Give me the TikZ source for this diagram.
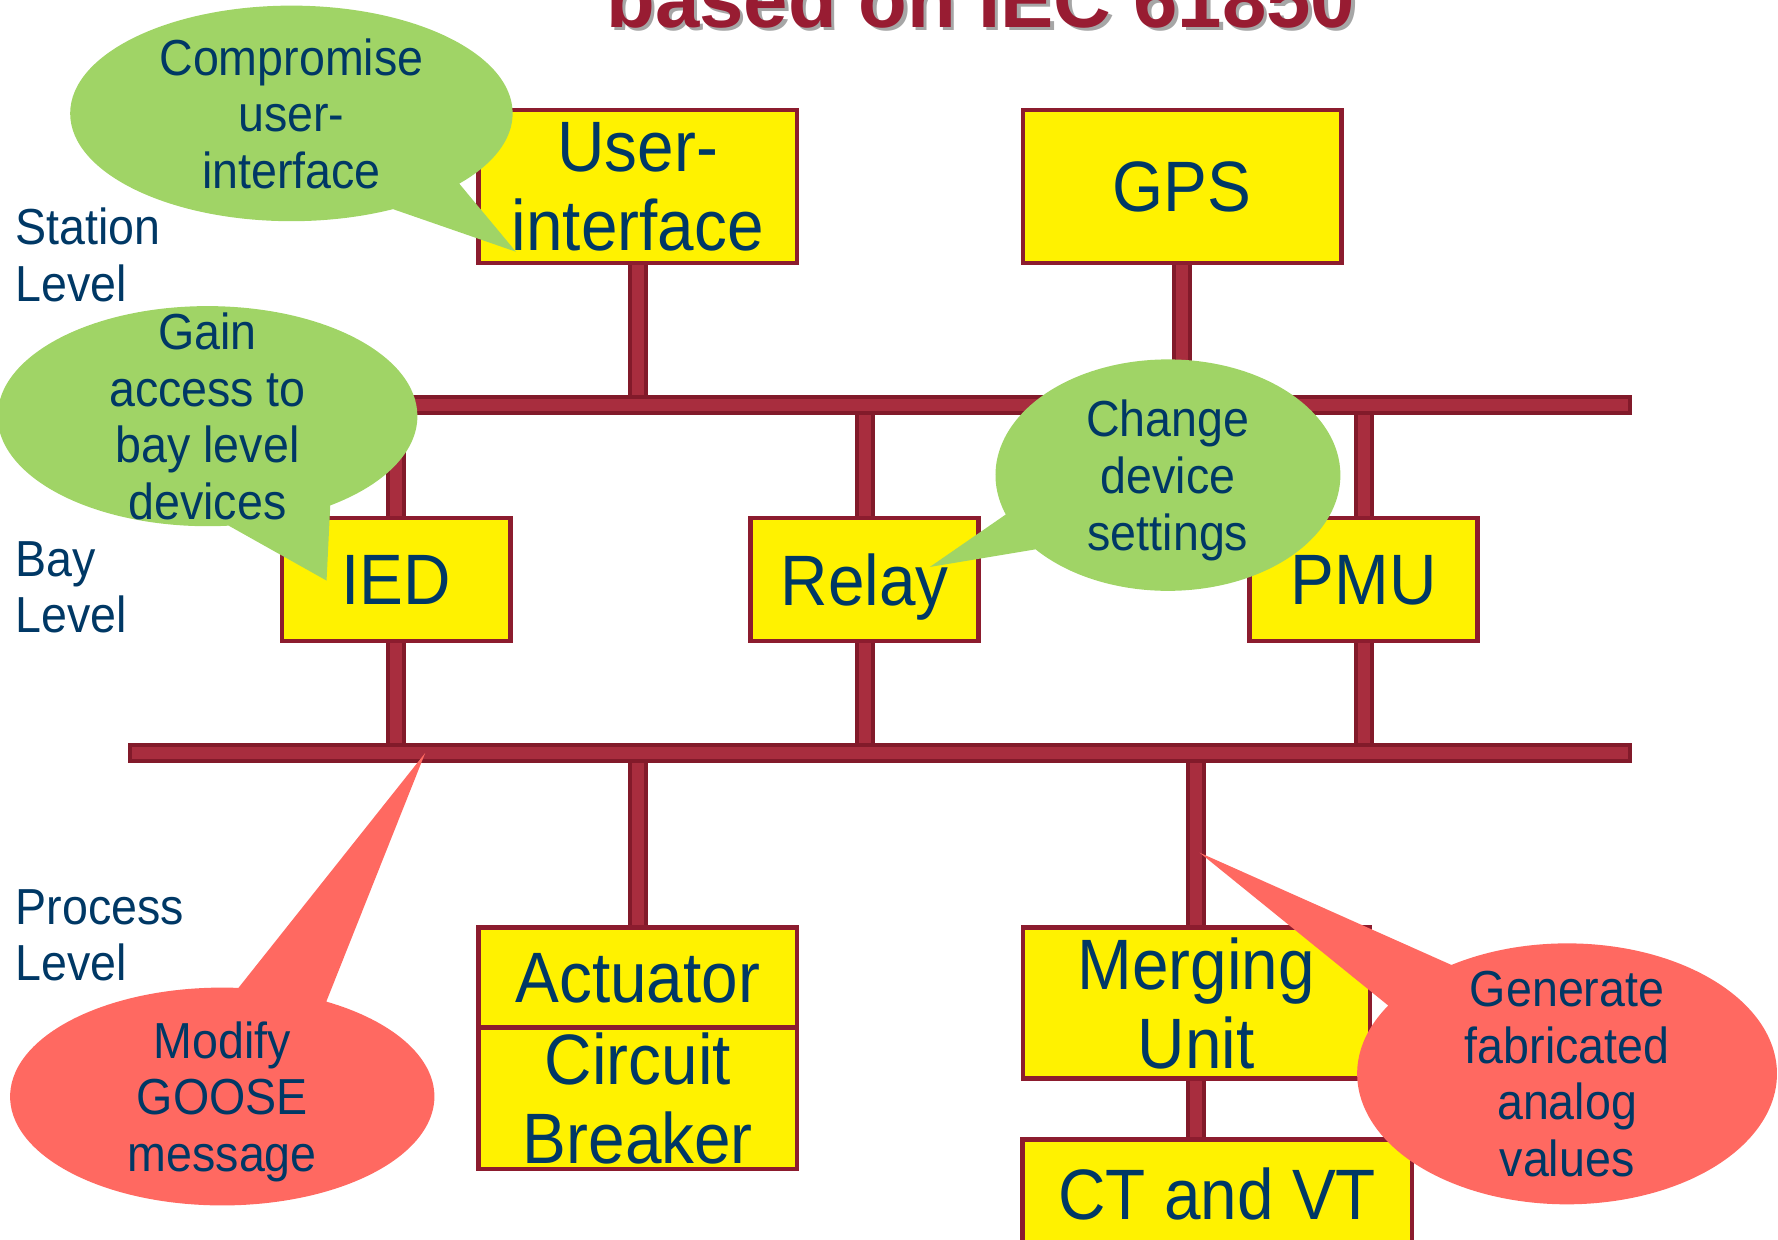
\documentclass[tikz,border=0pt]{standalone}
\usepackage{fontspec}
\setmainfont{Liberation Sans}[FakeStretch=0.92]
\newfontfamily\titlefont{Liberation Sans}
\usetikzlibrary{shapes.callouts}

\definecolor{boxborder}{RGB}{140,28,46}
\definecolor{busred}{RGB}{168,45,62}
\definecolor{busdark}{RGB}{130,26,42}
\definecolor{textblue}{RGB}{0,56,101}
\definecolor{callgreen}{RGB}{160,212,102}
\definecolor{callred}{RGB}{255,105,97}
\definecolor{titlered}{RGB}{152,28,50}

\pgfdeclarelayer{bg}
\pgfsetlayers{bg,main}

\tikzset{
  devbox/.style={draw=boxborder, fill=yellow, line width=1.1pt, text=textblue,
    align=center, inner sep=0pt, text depth=0pt, font=\fontsize{17.9}{19.9}\selectfont},
  bus/.style={draw=busdark, fill=busred, line width=1pt, minimum height=0.14cm, inner sep=0pt},
  stub/.style={draw=busdark, double=busred, double distance=3pt, line width=1pt},
  levellabel/.style={anchor=west, align=left, inner sep=0pt, text=textblue,
    font=\fontsize{12.7}{14.2}\selectfont},
  calltext/.style={align=center, inner sep=0pt, text depth=0pt, text=textblue,
    font=\fontsize{12.7}{14.2}\selectfont},
  greencall/.style={ellipse callout, fill=callgreen, inner sep=0pt},
  redcall/.style={ellipse callout, fill=callred, inner sep=0pt},
  titletext/.style={anchor=base, inner sep=0pt, text=titlered,
    font=\titlefont\bfseries\fontsize{20}{24}\selectfont}
}

\begin{document}
\begin{tikzpicture}[x=0.01cm,y=-0.01cm]
  \useasboundingbox (0,0) rectangle (1568,1093);

  % title, cut by the top edge
  \node[titletext, text=black!35] (titleshadow) at (868,27) {based on IEC 61850};
  \node[titletext] (title) at (865,24) {based on IEC 61850};

  % levels
  \node[levellabel] (station) at (13,225) {Station\\Level};
  \node[levellabel] (bay) at (13,518) {Bay\\Level};
  \node[levellabel] (process) at (13,825) {Process\\Level};

  % buses
  \node[bus, minimum width=10.97cm] (sbus) at (888.5,357) {};
  \node[bus, minimum width=13.22cm] (pbus) at (776,664) {};

  \begin{scope}[every node/.style={devbox}]
    \node[minimum width=2.81cm, minimum height=1.35cm] (ui)    at (562.5,164.5) {User-\\interface};
    \node[minimum width=2.81cm, minimum height=1.35cm] (gps)   at (1042.5,164.5) {GPS};
    \node[minimum width=2.01cm, minimum height=1.08cm] (ied)   at (349.5,511) {IED};
    \node[minimum width=2.01cm, minimum height=1.08cm] (relay) at (762.5,511) {Relay};
    \node[minimum width=2.01cm, minimum height=1.08cm] (pmu)   at (1202.5,511) {PMU};
    \node[minimum width=2.81cm, minimum height=0.88cm] (act)   at (562.5,862) {Actuator};
    \node[minimum width=2.81cm, minimum height=1.25cm] (cb)    at (562.5,968.5) {Circuit\\Breaker};
    \node[minimum width=3.06cm, minimum height=1.33cm] (mu)    at (1055,884.5) {Merging\\Unit};
    \node[minimum width=3.43cm, minimum height=0.96cm] (ctvt)  at (1073.5,1053) {CT and VT};
  \end{scope}

  \begin{pgfonlayer}{bg}
    \begin{scope}[every edge/.style={stub}]
      \path (ui)    edge (ui |- sbus);
      \path (gps)   edge (gps |- sbus);
      \path (ied)   edge (ied |- sbus);
      \path (relay) edge (relay |- sbus);
      \path (pmu)   edge (pmu |- sbus);
      \path (ied)   edge (ied |- pbus);
      \path (relay) edge (relay |- pbus);
      \path (pmu)   edge (pmu |- pbus);
      \path (act)   edge (act |- pbus);
      \path (mu)    edge (mu |- pbus);
      \path (mu)    edge (mu |- ctvt);
    \end{scope}
  \end{pgfonlayer}

  % attacks
  \coordinate (tip1) at (455,222);
  \coordinate (tip2) at (288,512);
  \coordinate (tip3) at (820,500);
  \coordinate (tip4) at (375,664);
  \coordinate (tip5) at (1058,752);

  \node[greencall, minimum width=3.9cm, minimum height=1.9cm, callout absolute pointer=(tip1),
    callout pointer arc=22, label={[calltext]center:Compromise\\user-\\interface}] (c1) at (257,100) {};
  \node[greencall, minimum width=3.7cm, minimum height=1.94cm, callout absolute pointer=(tip2),
    callout pointer arc=30, label={[calltext]center:Gain\\access to\\bay level\\devices}] (c2) at (183,367) {};
  \node[greencall, minimum width=3.04cm, minimum height=2.04cm, callout absolute pointer=(tip3),
    callout pointer arc=20, label={[calltext]center:Change\\device\\settings}] (c3) at (1030,419) {};
  \node[redcall, minimum width=3.74cm, minimum height=1.92cm, callout absolute pointer=(tip4),
    callout pointer arc=25, label={[calltext]center:Modify\\GOOSE\\message}] (c4) at (196,967) {};
  \node[redcall, minimum width=3.7cm, minimum height=2.3cm, callout absolute pointer=(tip5),
    callout pointer arc=25, label={[calltext]center:Generate\\fabricated\\analog\\values}] (c5) at (1382,947) {};
\end{tikzpicture}
\end{document}
